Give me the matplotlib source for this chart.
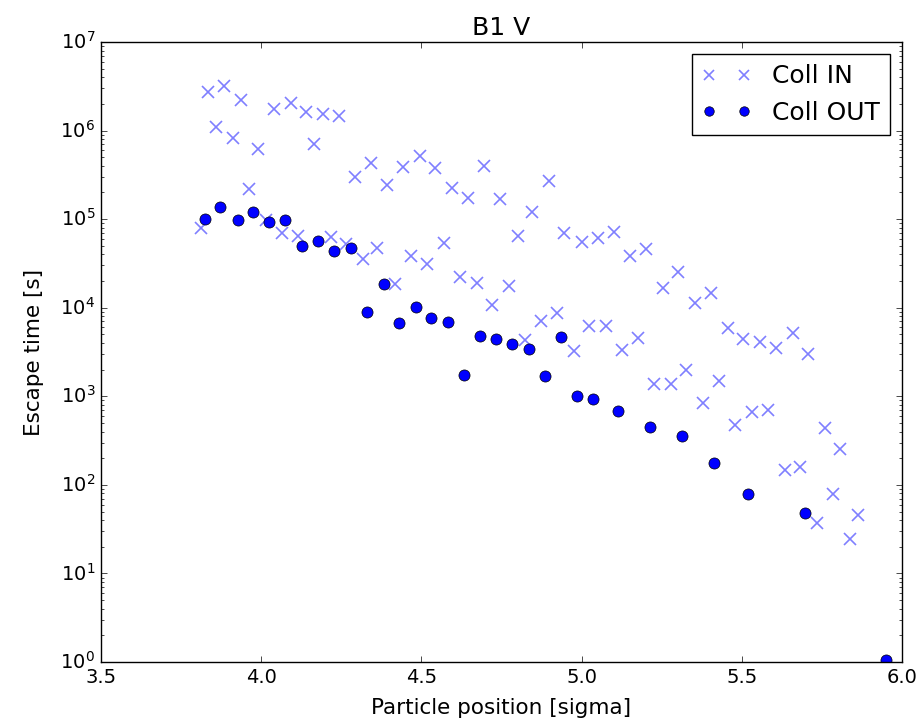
import matplotlib
matplotlib.use('Agg')
import matplotlib.pyplot as plt

# Coll IN: particle position [sigma], escape time [s]
pos_in = [3.813, 3.836, 3.861, 3.885, 3.913, 3.938, 3.961, 3.989, 4.014, 4.039,
          4.064, 4.092, 4.114, 4.141, 4.164, 4.193, 4.217, 4.242, 4.266, 4.294,
          4.318, 4.342, 4.363, 4.394, 4.419, 4.443, 4.467, 4.495, 4.518, 4.544,
          4.571, 4.597, 4.620, 4.644, 4.672, 4.696, 4.721, 4.745, 4.772, 4.800,
          4.823, 4.846, 4.873, 4.899, 4.922, 4.946, 4.975, 5.000, 5.024, 5.052,
          5.076, 5.101, 5.125, 5.151, 5.177, 5.201, 5.226, 5.253, 5.278, 5.302,
          5.326, 5.352, 5.378, 5.403, 5.427, 5.456, 5.479, 5.503, 5.531, 5.555,
          5.581, 5.606, 5.633, 5.658, 5.682, 5.706, 5.734, 5.758, 5.783, 5.807,
          5.836, 5.861]
t_in = [7.9e4, 2.7e6, 1.11e6, 3.2e6, 8.3e5, 2.2e6, 2.2e5, 6.2e5, 9.8e4, 1.74e6,
        6.9e4, 2.03e6, 6.5e4, 1.63e6, 7.1e5, 1.54e6, 6.3e4, 1.47e6, 5.3e4, 3.0e5,
        3.55e4, 4.27e5, 4.7e4, 2.41e5, 1.84e4, 3.85e5, 3.84e4, 5.2e5, 3.09e4, 3.75e5,
        5.34e4, 2.23e5, 2.24e4, 1.72e5, 1.89e4, 3.98e5, 1.07e4, 1.67e5, 1.76e4, 6.5e4,
        4.32e3, 1.19e5, 7.08e3, 2.7e5, 8.65e3, 7.0e4, 3.25e3, 5.48e4, 6.2e3, 6.08e4,
        6.2e3, 7.2e4, 3.33e3, 3.87e4, 4.6e3, 4.6e4, 1.37e3, 1.66e4, 1.37e3, 2.55e4,
        1.98e3, 1.12e4, 834, 1.46e4, 1.5e3, 5.85e3, 474, 4.44e3, 670, 4.13e3,
        700, 3.48e3, 147, 5.14e3, 160, 2.98e3, 37.4, 435, 78.9, 254,
        24.5, 45.7]

# Coll OUT
pos_out = [3.825, 3.873, 3.927, 3.975, 4.026, 4.075, 4.128, 4.177, 4.228, 4.281,
           4.331, 4.382, 4.430, 4.482, 4.531, 4.583, 4.632, 4.684, 4.732, 4.784,
           4.835, 4.885, 4.934, 4.987, 5.036, 5.112, 5.213, 5.314, 5.414, 5.518,
           5.698, 5.948]
t_out = [1.0e5, 1.36e5, 9.8e4, 1.19e5, 9.4e4, 9.8e4, 4.97e4, 5.7e4, 4.37e4, 4.7e4,
         9.0e3, 1.84e4, 6.67e3, 1.03e4, 7.6e3, 6.95e3, 1.74e3, 4.8e3, 4.43e3, 3.9e3,
         3.42e3, 1.71e3, 4.71e3, 1.0e3, 925, 682, 454, 356, 178, 79,
         47.7, 1.05]

plt.style.use('classic')
plt.rcParams['mathtext.fontset'] = 'dejavusans'

fig = plt.figure(figsize=(9.16, 7.24), dpi=100, facecolor='white')
ax = fig.add_axes([0.110, 0.0856, 0.875, 0.8564])

ax.plot(pos_in, t_in, 'x', color='blue', alpha=0.5, ms=9, mew=1.2, label='Coll IN')
ax.plot(pos_out, t_out, 'o', color='blue', mec='black', mew=0.5, ms=8, label='Coll OUT')

ax.set_yscale('log')
ax.set_xlim(3.5, 6.0)
ax.set_ylim(1, 1e7)
ax.set_title('B1 V', fontsize=18)
ax.set_xlabel('Particle position [sigma]', fontsize=15.5, labelpad=8)
ax.set_ylabel('Escape time [s]', fontsize=15.5, labelpad=12)
ax.tick_params(labelsize=14)
ax.legend(loc='upper right', numpoints=2, fontsize=18, markerscale=0.85)

fig.savefig('out.png', dpi=100, facecolor='white')
